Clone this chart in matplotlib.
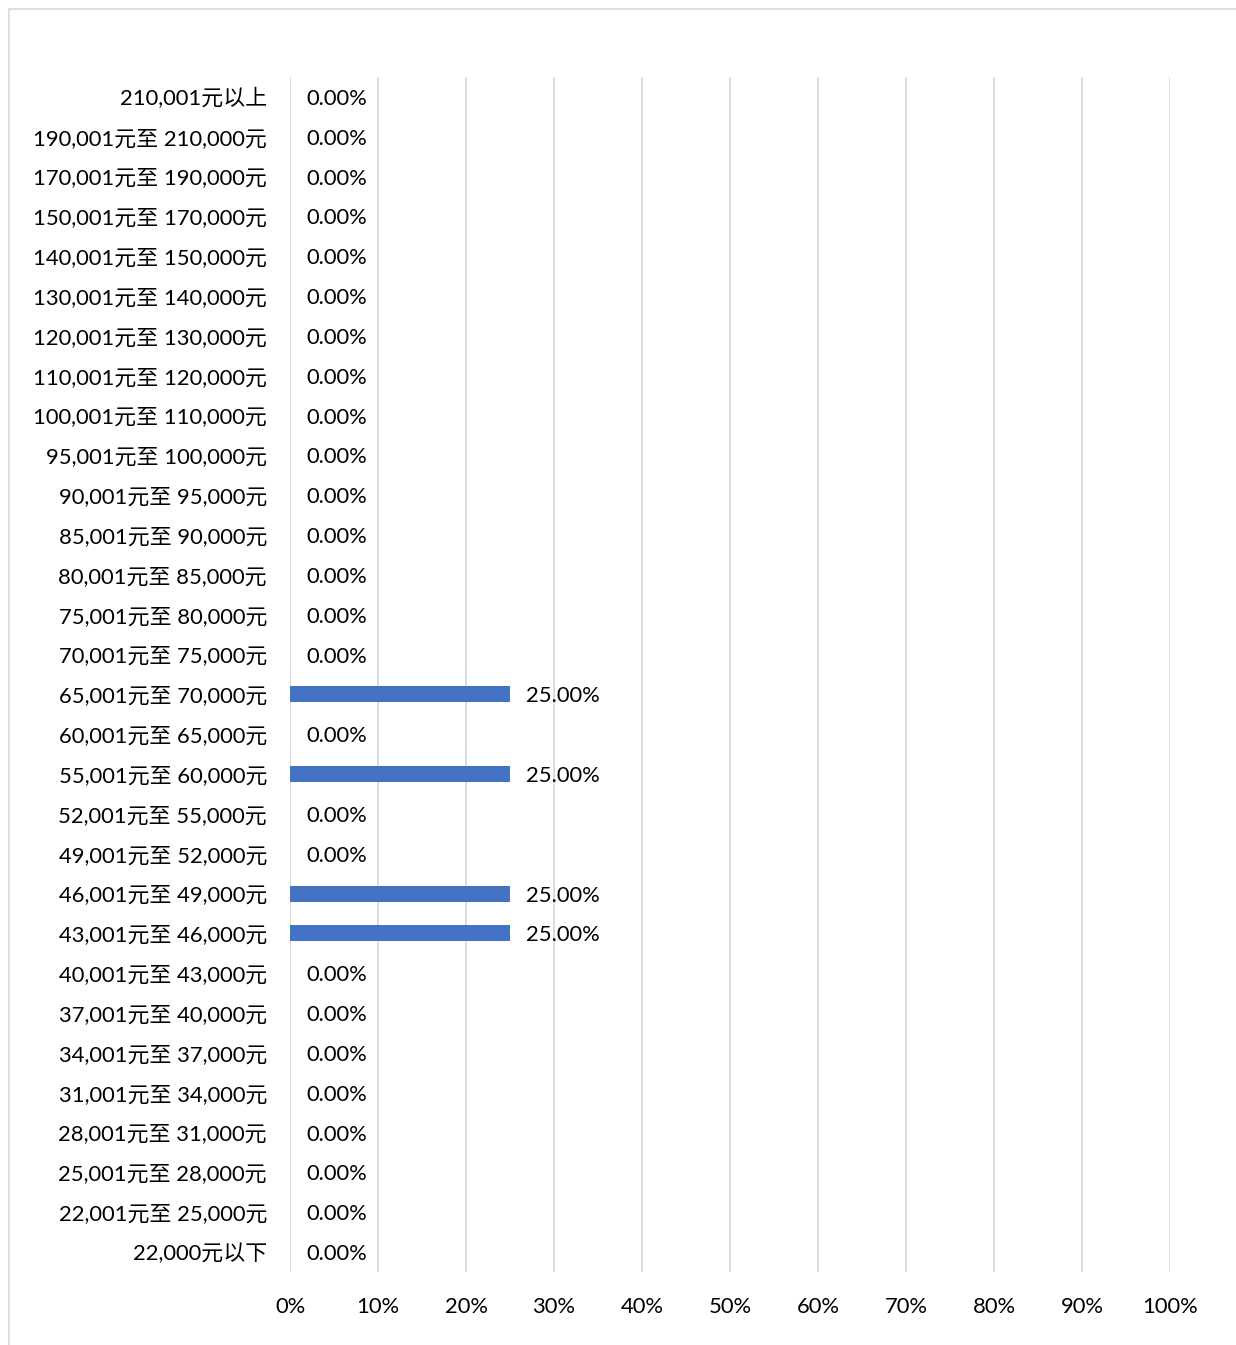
import matplotlib
matplotlib.use("Agg")
import matplotlib.pyplot as plt
from matplotlib.patches import Rectangle

plt.rcParams['font.family'] = ['Lato', 'Noto Sans CJK SC', 'DejaVu Sans']

categories = [
    "22,000元以下", "22,001元至 25,000元", "25,001元至 28,000元", "28,001元至 31,000元",
    "31,001元至 34,000元", "34,001元至 37,000元", "37,001元至 40,000元", "40,001元至 43,000元",
    "43,001元至 46,000元", "46,001元至 49,000元", "49,001元至 52,000元", "52,001元至 55,000元",
    "55,001元至 60,000元", "60,001元至 65,000元", "65,001元至 70,000元", "70,001元至 75,000元",
    "75,001元至 80,000元", "80,001元至 85,000元", "85,001元至 90,000元", "90,001元至 95,000元",
    "95,001元至 100,000元", "100,001元至 110,000元", "110,001元至 120,000元", "120,001元至 130,000元",
    "130,001元至 140,000元", "140,001元至 150,000元", "150,001元至 170,000元", "170,001元至 190,000元",
    "190,001元至 210,000元", "210,001元以上",
]
values = [0, 0, 0, 0, 0, 0, 0, 0, 25, 25, 0, 0, 25, 0, 25, 0, 0, 0, 0, 0, 0, 0, 0, 0, 0, 0, 0, 0, 0, 0]
xticks = [0, 10, 20, 30, 40, 50, 60, 70, 80, 90, 100]

W, H = 1236, 1345
FS = 15.8
fig = plt.figure(figsize=(W / 100, H / 100), dpi=100)
fig.patches.append(Rectangle((9 / W, -0.1), 1.2, (H - 9) / H + 0.1, transform=fig.transFigure,
                             fill=False, edgecolor='#D9D9D9', linewidth=1.2))

ax = fig.add_axes([290 / W, 1 - 1272 / H, (1170 - 290) / W, (1272 - 77) / H])
y = list(range(len(categories)))
ax.barh(y, values, height=0.4, color='#4472C4', zorder=3)
ax.set_ylim(-0.5, len(categories) - 0.5)
ax.set_xlim(0, 100)
ax.set_xticks(xticks)
ax.set_xticklabels([f"{t}%" for t in xticks], fontsize=FS)
ax.set_yticks(y)
ax.set_yticklabels(categories, fontsize=FS)
ax.tick_params(axis='both', length=0, colors='#000000')
ax.tick_params(axis='y', pad=16.5)
ax.tick_params(axis='x', pad=18)
for s in ax.spines.values():
    s.set_visible(False)
ax.grid(axis='x', color='#D9D9D9', linewidth=1.3, zorder=0)
ax.set_axisbelow(True)

for yi, v in zip(y, values):
    ax.annotate(f"{v:.2f}%", xy=(v, yi), xytext=(16, -2), textcoords='offset pixels',
                ha='left', va='center', fontsize=FS, color='#000000', zorder=4)

fig.savefig("out.png", dpi=100, facecolor='white')
